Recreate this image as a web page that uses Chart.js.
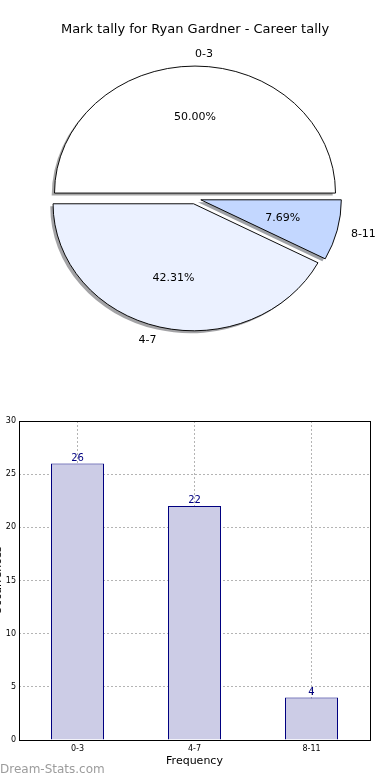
<!DOCTYPE html>
<html>
<head>
<meta charset="utf-8">
<script src="https://cdn.jsdelivr.net/npm/chart.js@4/dist/chart.umd.min.js"></script>
<style>
  html, body { margin: 0; padding: 0; background: #fff; overflow: hidden; }
  body { width: 390px; height: 780px; position: relative; font-family: "DejaVu Sans", sans-serif; }
  #pieBox { position: absolute; left: 0; top: 0; width: 390px; height: 390px; }
  #barBox { position: absolute; left: -14px; top: 400px; width: 404px; height: 380px; }
  #marca { position: absolute; left: 0; top: 762px; font-size: 12px; color: #9c9c9c; white-space: nowrap; }
</style>
</head>
<body>
<div id="pieBox"><canvas id="pieChart"></canvas></div>
<div id="barBox"><canvas id="barChart"></canvas></div>
<div id="marca">Dream-Stats.com</div>
<script>
// datos
const categorias = ['0-3', '4-7', '8-11'];
const cuentas = [26, 22, 4];
const titulo = 'Mark tally for Ryan Gardner - Career tally';
const tituloX = 'Frequency';
const tituloY = 'Occurrences';
const yMax = 30;
const yPaso = 5;

// estilo
const coloresPie = ['#ffffff', '#ebf1ff', '#c3d7ff'];
const aplastar = 0.904;   // el pie sale como elipse
const separar = 6;        // explode de cada trozo
const sombraX = -2.8, sombraY = 2.5;
const fuente = 'DejaVu Sans';

Chart.defaults.font.family = fuente;
Chart.defaults.animation = false;

const total = cuentas.reduce((a, b) => a + b, 0);

// matplotlib gira al revés, asi que invierto el orden
const pieLabels = categorias.slice().reverse();
const pieData = cuentas.slice().reverse();
const pieColores = coloresPie.slice().reverse();

function colorSombra(hex) {
    const n = parseInt(hex.slice(1), 16);
    const r = Math.round(((n >> 16) & 255) * 0.3);
    const g = Math.round(((n >> 8) & 255) * 0.3);
    const b = Math.round((n & 255) * 0.3);
    return `rgba(${r},${g},${b},0.5)`;
}

function escalar(ctx, cy) {
    ctx.translate(0, cy);
    ctx.scale(1, aplastar);
    ctx.translate(0, -cy);
}

function dibujarTrozo(ctx, arc, extra) {
    const mid = (arc.startAngle + arc.endAngle) / 2;
    const orig = arc.options;
    if (extra) arc.options = Object.assign({}, orig, extra);
    ctx.save();
    ctx.translate(Math.cos(mid) * separar, Math.sin(mid) * separar);
    arc.draw(ctx);
    ctx.restore();
    arc.options = orig;
}

const elipse = {
    id: 'elipse',
    beforeDatasetsDraw(chart) {
        const ctx = chart.ctx;
        const arcs = chart.getDatasetMeta(0).data;
        const cy = arcs[0].y;
        // sombras primero, debajo de todo
        ctx.save();
        ctx.translate(sombraX, sombraY);
        escalar(ctx, cy);
        arcs.forEach((arc, i) => {
            const c = colorSombra(pieColores[i]);
            dibujarTrozo(ctx, arc, { backgroundColor: c, borderColor: c, borderWidth: 0 });
        });
        ctx.restore();
        ctx.save();
        escalar(ctx, cy);
        arcs.forEach(arc => dibujarTrozo(ctx, arc));
        ctx.restore();
        return false;
    },
    afterDraw(chart) {
        const ctx = chart.ctx;
        const arcs = chart.getDatasetMeta(0).data;
        ctx.save();
        ctx.font = '11px "' + fuente + '"';
        ctx.fillStyle = '#000';
        ctx.textBaseline = 'middle';
        arcs.forEach((arc, i) => {
            const mid = (arc.startAngle + arc.endAngle) / 2;
            const R = arc.outerRadius;
            const c = Math.cos(mid), s = Math.sin(mid);
            const px = arc.x + c * (separar + 0.6 * R);
            const py = arc.y + s * (separar + 0.6 * R) * aplastar;
            const pct = (pieData[i] / total * 100).toFixed(2) + '%';
            ctx.textAlign = 'center';
            ctx.fillText(pct, px, py);
            const lx = arc.x + c * (separar + 1.1 * R);
            const ly = arc.y + s * (separar + 1.1 * R) * aplastar + 1;
            ctx.textAlign = c > -1e-6 ? 'left' : 'right';
            ctx.fillText(pieLabels[i], lx, ly);
        });
        ctx.restore();
    }
};

new Chart(document.getElementById('pieChart'), {
    type: 'pie',
    data: {
        labels: pieLabels,
        datasets: [{
            data: pieData,
            backgroundColor: pieColores,
            borderColor: '#000',
            borderWidth: 1,
            offset: 0
        }]
    },
    options: {
        responsive: true,
        maintainAspectRatio: false,
        rotation: 90,
        radius: 140.5,
        layout: { padding: { top: 0, bottom: 40.6, left: 0, right: 0 } },
        plugins: {
            legend: { display: false },
            tooltip: { enabled: false },
            title: {
                display: true,
                text: titulo,
                color: '#000',
                font: { size: 13, weight: 'normal' },
                padding: { top: 22, bottom: 10 }
            }
        },
        events: []
    },
    plugins: [elipse]
});

const valores = {
    id: 'valores',
    afterDraw(chart) {
        const ctx = chart.ctx;
        const area = chart.chartArea;
        ctx.save();
        ctx.strokeStyle = '#000';
        ctx.lineWidth = 1;
        ctx.strokeRect(Math.round(area.left) + 0.5, Math.round(area.top) + 0.5,
            Math.round(area.right - area.left), Math.round(area.bottom - area.top));
        ctx.font = '10px "' + fuente + '"';
        ctx.fillStyle = '#000080';
        ctx.textAlign = 'center';
        ctx.textBaseline = 'bottom';
        chart.getDatasetMeta(0).data.forEach((bar, i) => {
            ctx.fillText(String(cuentas[i]), bar.x, bar.y - 0.5);
        });
        ctx.restore();
    }
};

new Chart(document.getElementById('barChart'), {
    type: 'bar',
    data: {
        labels: categorias,
        datasets: [{
            data: cuentas,
            backgroundColor: '#ccccE6',
            borderColor: '#000080',
            borderWidth: 1,
            barThickness: 53,
            inflateAmount: 0
        }]
    },
    options: {
        responsive: true,
        maintainAspectRatio: false,
        layout: { padding: { top: 21, right: 20, left: 0, bottom: 0 } },
        plugins: {
            legend: { display: false },
            tooltip: { enabled: false }
        },
        events: [],
        scales: {
            x: {
                offset: true,
                z: 1,
                grid: { color: '#b4b4b4', offset: false, drawTicks: false, lineWidth: 1 },
                border: { display: false, dash: [2, 2] },
                ticks: { color: '#000', font: { size: 8 }, padding: 4 },
                title: { display: true, text: tituloX, color: '#000', font: { size: 11 }, padding: { top: 0, bottom: 12.4 } },
                afterFit(scale) { scale.height = 40; }
            },
            y: {
                min: 0,
                max: yMax,
                z: 1,
                grid: { color: '#b4b4b4', drawTicks: false, lineWidth: 1 },
                border: { display: false, dash: [2, 2] },
                ticks: { stepSize: yPaso, color: '#000', font: { size: 8 }, padding: 3 },
                title: { display: true, text: tituloY, color: '#000', font: { size: 11 }, padding: { top: 5.4, bottom: 0 } },
                afterFit(scale) { scale.width = 33; }
            }
        }
    },
    plugins: [valores]
});
</script>
</body>
</html>
